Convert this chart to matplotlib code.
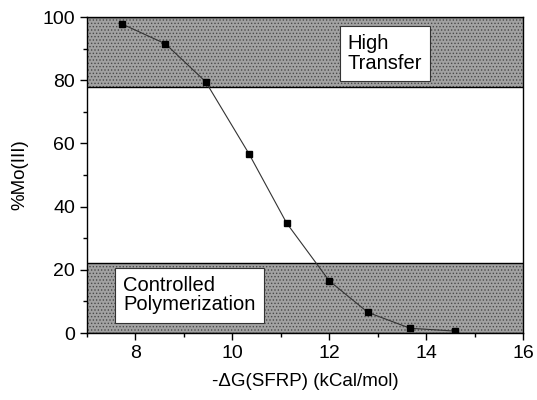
import matplotlib.pyplot as plt
from matplotlib.ticker import MultipleLocator

plt.rcParams['font.family'] = ['Liberation Sans', 'DejaVu Sans']
plt.rcParams['hatch.linewidth'] = 0.6

# data
dg = [7.72, 8.62, 9.45, 10.34, 11.12, 12.0, 12.8, 13.67, 14.6]
mo3 = [97.8, 91.5, 79.5, 56.8, 34.8, 16.5, 6.5, 1.5, 0.6]

# shaded regions (y ranges) and their labels
band_low = (0, 22)
band_high = (77.7, 100)
label_low = "Controlled\nPolymerization"
label_high = "High\nTransfer"

fig = plt.figure(figsize=(5.37, 4.0), dpi=100)
ax = fig.add_axes([0.162, 0.1675, 0.812, 0.79])

for lo, hi in (band_low, band_high):
    ax.axhspan(lo, hi, facecolor='#a2a2a2', edgecolor='#4a4a4a', hatch='.....',
               linewidth=0, zorder=1)
    ax.axhline(lo, color='black', lw=1.0, zorder=2)
    ax.axhline(hi, color='black', lw=1.0, zorder=2)

box = dict(boxstyle='square,pad=0.4', facecolor='white', edgecolor='#333333', lw=0.8)
ax.text(12.38, 88.5, label_high, fontsize=14.5, va='center', ha='left',
        linespacing=1.05, bbox=box, zorder=3)
ax.text(7.75, 12.0, label_low, fontsize=14.5, va='center', ha='left',
        linespacing=1.05, bbox=box, zorder=3)

ax.plot(dg, mo3, color='#333333', lw=0.8, zorder=4)
ax.plot(dg, mo3, 's', color='black', ms=5, zorder=5)

ax.set_xlim(7, 16)
ax.set_ylim(0, 100)
ax.xaxis.set_major_locator(MultipleLocator(2))
ax.xaxis.set_minor_locator(MultipleLocator(1))
ax.yaxis.set_major_locator(MultipleLocator(20))
ax.yaxis.set_minor_locator(MultipleLocator(10))
ax.tick_params(which='major', direction='out', length=5, width=1, labelsize=14)
ax.tick_params(which='minor', direction='out', length=3, width=1)
for s in ax.spines.values():
    s.set_linewidth(1.0)
    s.set_zorder(6)

ax.set_xlabel('-ΔG(SFRP) (kCal/mol)', fontsize=13.5, labelpad=8)
ax.set_ylabel('%Mo(III)', fontsize=13.5, labelpad=10)

fig.savefig('out.png', dpi=100)
plt.close(fig)
